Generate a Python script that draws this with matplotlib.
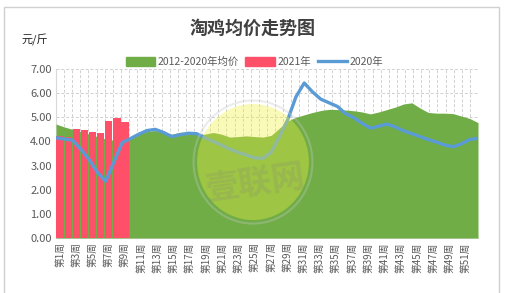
import numpy as np
import matplotlib
matplotlib.use("Agg")
from matplotlib import pyplot as plt
from matplotlib.patches import Patch, Ellipse, Rectangle
from matplotlib.lines import Line2D

plt.rcParams['font.family'] = ['Noto Sans CJK SC', 'DejaVu Sans']

# 数据
weeks = ["第%d周" % i for i in range(1, 53)]
avg_2012_2020 = [4.72, 4.60, 4.50, 4.40, 4.30, 4.20, 4.10, 4.05, 4.05, 4.15,
                 4.30, 4.42, 4.45, 4.35, 4.30, 4.38, 4.38, 4.28, 4.30, 4.37,
                 4.30, 4.18, 4.20, 4.23, 4.20, 4.18, 4.25, 4.55, 4.85, 5.00,
                 5.10, 5.20, 5.28, 5.33, 5.32, 5.30, 5.27, 5.22, 5.14, 5.22,
                 5.32, 5.42, 5.55, 5.60, 5.38, 5.20, 5.17, 5.17, 5.15, 5.05,
                 4.95, 4.78]
price_2021 = [4.21, 4.20, 4.53, 4.49, 4.38, 4.34, 4.84, 4.99, 4.80]
price_2020 = [4.15, 4.10, 4.05, 3.68, 3.25, 2.72, 2.35, 3.15, 3.95, 4.12,
              4.30, 4.45, 4.50, 4.37, 4.20, 4.28, 4.34, 4.32, 4.15, 4.00,
              3.85, 3.68, 3.55, 3.44, 3.32, 3.30, 3.55, 4.20, 4.90, 5.85,
              6.42, 6.05, 5.75, 5.60, 5.45, 5.15, 4.98, 4.75, 4.55, 4.63,
              4.72, 4.60, 4.44, 4.32, 4.20, 4.08, 3.97, 3.85, 3.78, 3.90,
              4.08, 4.13]
yticks = np.arange(0, 8, 1)

green = '#70AD47'
red = '#FF5069'
blue = '#5B9BD5'
gray = '#595959'

fig = plt.figure(figsize=(5.06, 2.93), dpi=100)
ax = fig.add_axes([0.1107, 0.1877, 0.834, 0.5768])

# 底层坐标轴：分类刻度和网格
ax.set_xlim(-0.5, len(weeks) - 0.5)
ax.set_ylim(0, 7)
ax.set_xticks(range(0, len(weeks), 2))
ax.set_xticklabels(weeks[::2], rotation=90, fontsize=7, color=gray)
ax.set_xticks(np.arange(-0.5, len(weeks), 1), minor=True)
ax.set_yticks(yticks)
ax.set_yticklabels(["%.2f" % v for v in yticks], fontsize=8, color=gray)
ax.tick_params(which='both', length=0, pad=3)
ax.grid(axis='x', which='minor', ls=(0, (3, 2)), color='#d0d0d0', lw=0.7)
ax.grid(axis='y', which='major', ls=(0, (3, 2)), color='#d0d0d0', lw=0.7)
for s in ['top', 'right']:
    ax.spines[s].set_visible(False)
ax.spines['left'].set_color('#d9d9d9')
ax.spines['bottom'].set_color('#d9d9d9')


def overlay(xlim, z):
    a = ax.twiny()
    a.set_xlim(*xlim)
    a.set_ylim(0, 7)
    a.set_zorder(z)
    a.patch.set_visible(False)
    a.axis('off')
    return a


# 面积（次坐标，刻度线上）
ax_area = overlay((0, len(avg_2012_2020) - 1), 1)
ax_area.fill_between(range(len(avg_2012_2020)), avg_2012_2020, color=green, lw=0)

# 2021年柱形
ax_bar = overlay((-0.5, len(weeks) - 0.5), 2)
ax_bar.bar(range(len(price_2021)), price_2021, width=0.9, color=red)

# 2020年折线
ax_line = overlay((0, len(price_2020) - 1), 3)
ax_line.plot(range(len(price_2020)), price_2020, color=blue, lw=2.4,
             solid_capstyle='round', solid_joinstyle='round')

# 水印
fig.add_artist(Ellipse((0.5, 0.447), 0.221, 0.396, transform=fig.transFigure,
                       color='#F0F03C', alpha=0.36, lw=0, zorder=5))
fig.add_artist(Ellipse((0.5, 0.447), 0.235, 0.42, transform=fig.transFigure,
                       fill=False, edgecolor='#c8c8c8', alpha=0.35, lw=1.5, zorder=5))
fig.text(0.505, 0.375, "壹联网", fontsize=24, fontweight='bold', color='#808080',
         alpha=0.2, rotation=8, ha='center', va='center', zorder=6)

# 标题和单位
fig.text(0.5, 0.904, "淘鸡均价走势图", fontsize=13, fontweight='bold',
         color='#404040', ha='center', va='center')
fig.text(0.042, 0.863, "元/斤", fontsize=8, color='#222222', ha='left', va='center')

handles = [Patch(color=green), Patch(color=red), Line2D([], [], color=blue, lw=2.4)]
fig.legend(handles, ["2012-2020年均价", "2021年", "2020年"], loc='center',
           bbox_to_anchor=(0.503, 0.788), ncol=3, frameon=False, fontsize=7.5,
           handlelength=2.8, handleheight=1.0, handletextpad=0.3,
           columnspacing=0.6, labelcolor=gray)

fig.add_artist(Rectangle((4 / 506, -0.02), 495 / 506, 1 - 7 / 293 + 0.02,
                         transform=fig.transFigure, fill=False,
                         edgecolor='#d0d0d0', lw=1))

fig.savefig("out.png", dpi=100)
